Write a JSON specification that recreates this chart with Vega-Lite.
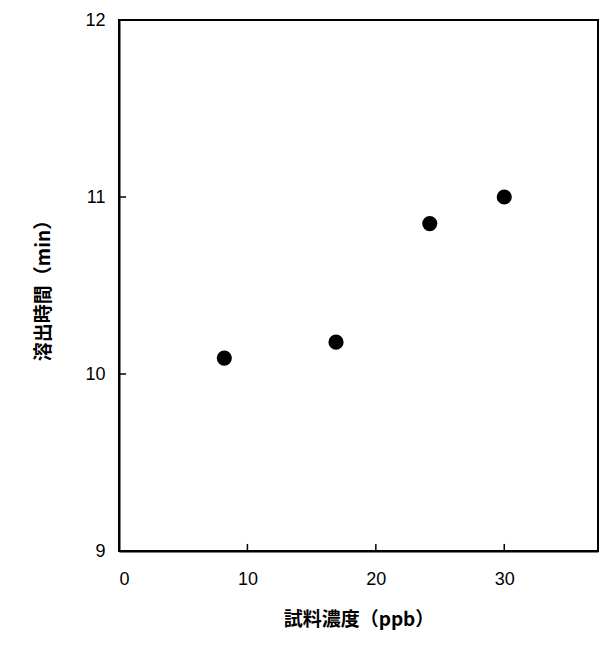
{
  "$schema": "https://vega.github.io/schema/vega-lite/v6.json",
  "autosize": "none",
  "width": 479,
  "height": 531,
  "padding": {"left": 119, "top": 20, "right": 5, "bottom": 94},
  "background": "white",
  "layer": [
    {
      "data": {"values": [
        {"conc": 8.2, "time": 10.09},
        {"conc": 16.9, "time": 10.18},
        {"conc": 24.2, "time": 10.85},
        {"conc": 30.0, "time": 11.0}
      ]},
      "mark": {"type": "point", "filled": true, "shape": "circle", "size": 230, "color": "black", "opacity": 1},
      "encoding": {
        "x": {"field": "conc", "type": "quantitative",
          "scale": {"domain": [0, 37.3], "nice": false, "zero": true},
          "axis": {"values": [0, 10, 20, 30], "format": "d", "title": "試料濃度（ppb）", "grid": false,
            "ticks": false, "labelPadding": 19, "titlePadding": 22}},
        "y": {"field": "time", "type": "quantitative",
          "scale": {"domain": [9, 12], "nice": false, "zero": false},
          "axis": {"values": [9, 10, 11, 12], "format": "d", "title": "溶出時間（min）", "grid": false,
            "ticks": false, "labelPadding": 14, "titlePadding": 31}}
      }
    },
    {
      "data": {"values": [{"conc": 10}, {"conc": 20}, {"conc": 30}]},
      "mark": {"type": "rule", "color": "black", "strokeWidth": 1.5},
      "encoding": {
        "x": {"field": "conc", "type": "quantitative"},
        "y": {"datum": 9, "type": "quantitative"},
        "y2": {"datum": 9.04}
      }
    },
    {
      "data": {"values": [{"time": 10}, {"time": 11}]},
      "mark": {"type": "rule", "color": "black", "strokeWidth": 1.5},
      "encoding": {
        "y": {"field": "time", "type": "quantitative"},
        "x": {"datum": 0, "type": "quantitative"},
        "x2": {"datum": 0.55}
      }
    }
  ],
  "config": {
    "view": {"stroke": "black", "strokeWidth": 2},
    "axis": {
      "domainColor": "black", "domainWidth": 2,
      "labelFont": "Liberation Sans", "labelFontSize": 18, "labelColor": "black",
      "titleFont": "Noto Sans CJK JP", "titleFontSize": 19, "titleFontWeight": "bold", "titleColor": "black"
    }
  }
}
